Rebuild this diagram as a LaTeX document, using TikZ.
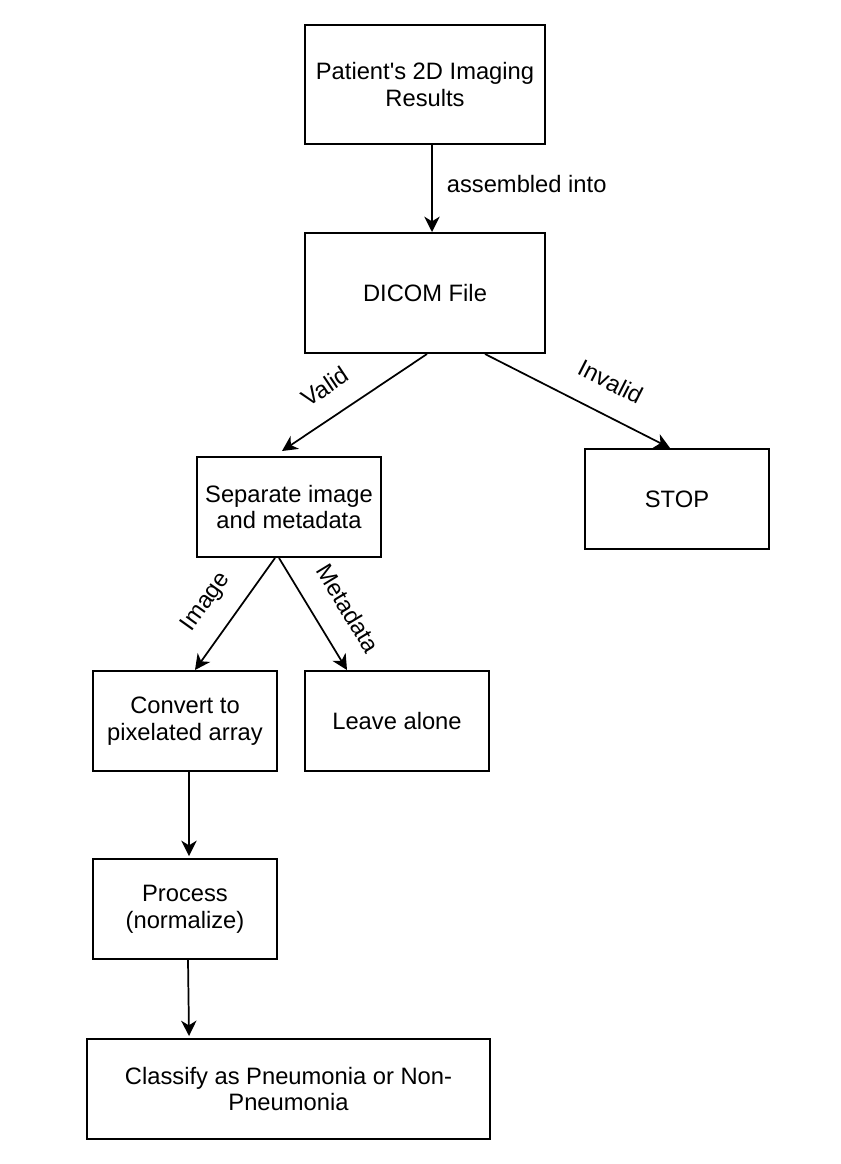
\documentclass[tikz,border=0pt]{standalone}
\usepackage{fontspec}
\setmainfont{Liberation Sans}
\usetikzlibrary{arrows.meta}

\begin{document}
\begin{tikzpicture}[x=0.75pt,y=-0.75pt,
	box/.style={draw, line width=1.5pt, minimum width=138pt, minimum height=75pt, align=center, inner sep=0pt, font=\fontsize{17.8pt}{20pt}\selectfont},
	flow/.style={line width=1.3pt, -{Stealth[length=11.5pt,width=11.5pt,inset=3.5pt]}},
	lbl/.style={inner sep=0pt, font=\fontsize{17.8pt}{20pt}\selectfont}]
	
	\useasboundingbox (0,0) rectangle (840,1164);
	
	\node[box, minimum width=180pt, minimum height=89.25pt] (patient) at (425,84.5) {Patient\textquotesingle s 2D Imaging\\Results};
	\node[box, minimum width=180pt, minimum height=90pt] (dicom) at (425,293) {DICOM File};
	\node[box] (separate) at (289,507) {Separate image\\and metadata};
	\node[box] (stop) at (677,499) {STOP};
	\node[box] (convert) at (185,721) {Convert to\\pixelated array};
	\node[box] (leave) at (397,721) {Leave alone};
	\node[box] (process) at (185,909) {Process\\(normalize)};
	\node[box, minimum width=302.25pt] (classify) at (288.5,1089) {Classify as Pneumonia or Non-\\Pneumonia};
	
	\draw[flow] ([xshift=5.25pt]patient.south) -- ([xshift=5.25pt]dicom.north) node[lbl, pos=0.45, right=10.5pt] {assembled into};
	\draw[flow] ([xshift=1.5pt]dicom.south) -- ([xshift=-5.25pt,yshift=3.75pt]separate.north) node[lbl, sloped, pos=0.59, above=15pt] {Valid};
	\draw[flow] ([xshift=45pt]dicom.south) -- ([xshift=-5.25pt]stop.north) node[lbl, sloped, pos=0.6, above=17pt] {Invalid};
	
	\draw[flow] ([xshift=-10.5pt]separate.south) -- ([xshift=7.5pt]convert.north) node[lbl, sloped, pos=0.55, above=14pt] {Image};
	\draw[flow] ([xshift=-7.5pt]separate.south) -- ([xshift=-37.5pt]leave.north) node[lbl, sloped, pos=0.6, above=17.5pt] {Metadata};
	
	\draw[flow] ([xshift=3pt]convert.south) -- ([xshift=3pt,yshift=1.5pt]process.north);
	\draw[flow] ([xshift=2.25pt]process.south) -- ([xshift=-74.6pt,yshift=1.5pt]classify.north);
	
\end{tikzpicture}
\end{document}
